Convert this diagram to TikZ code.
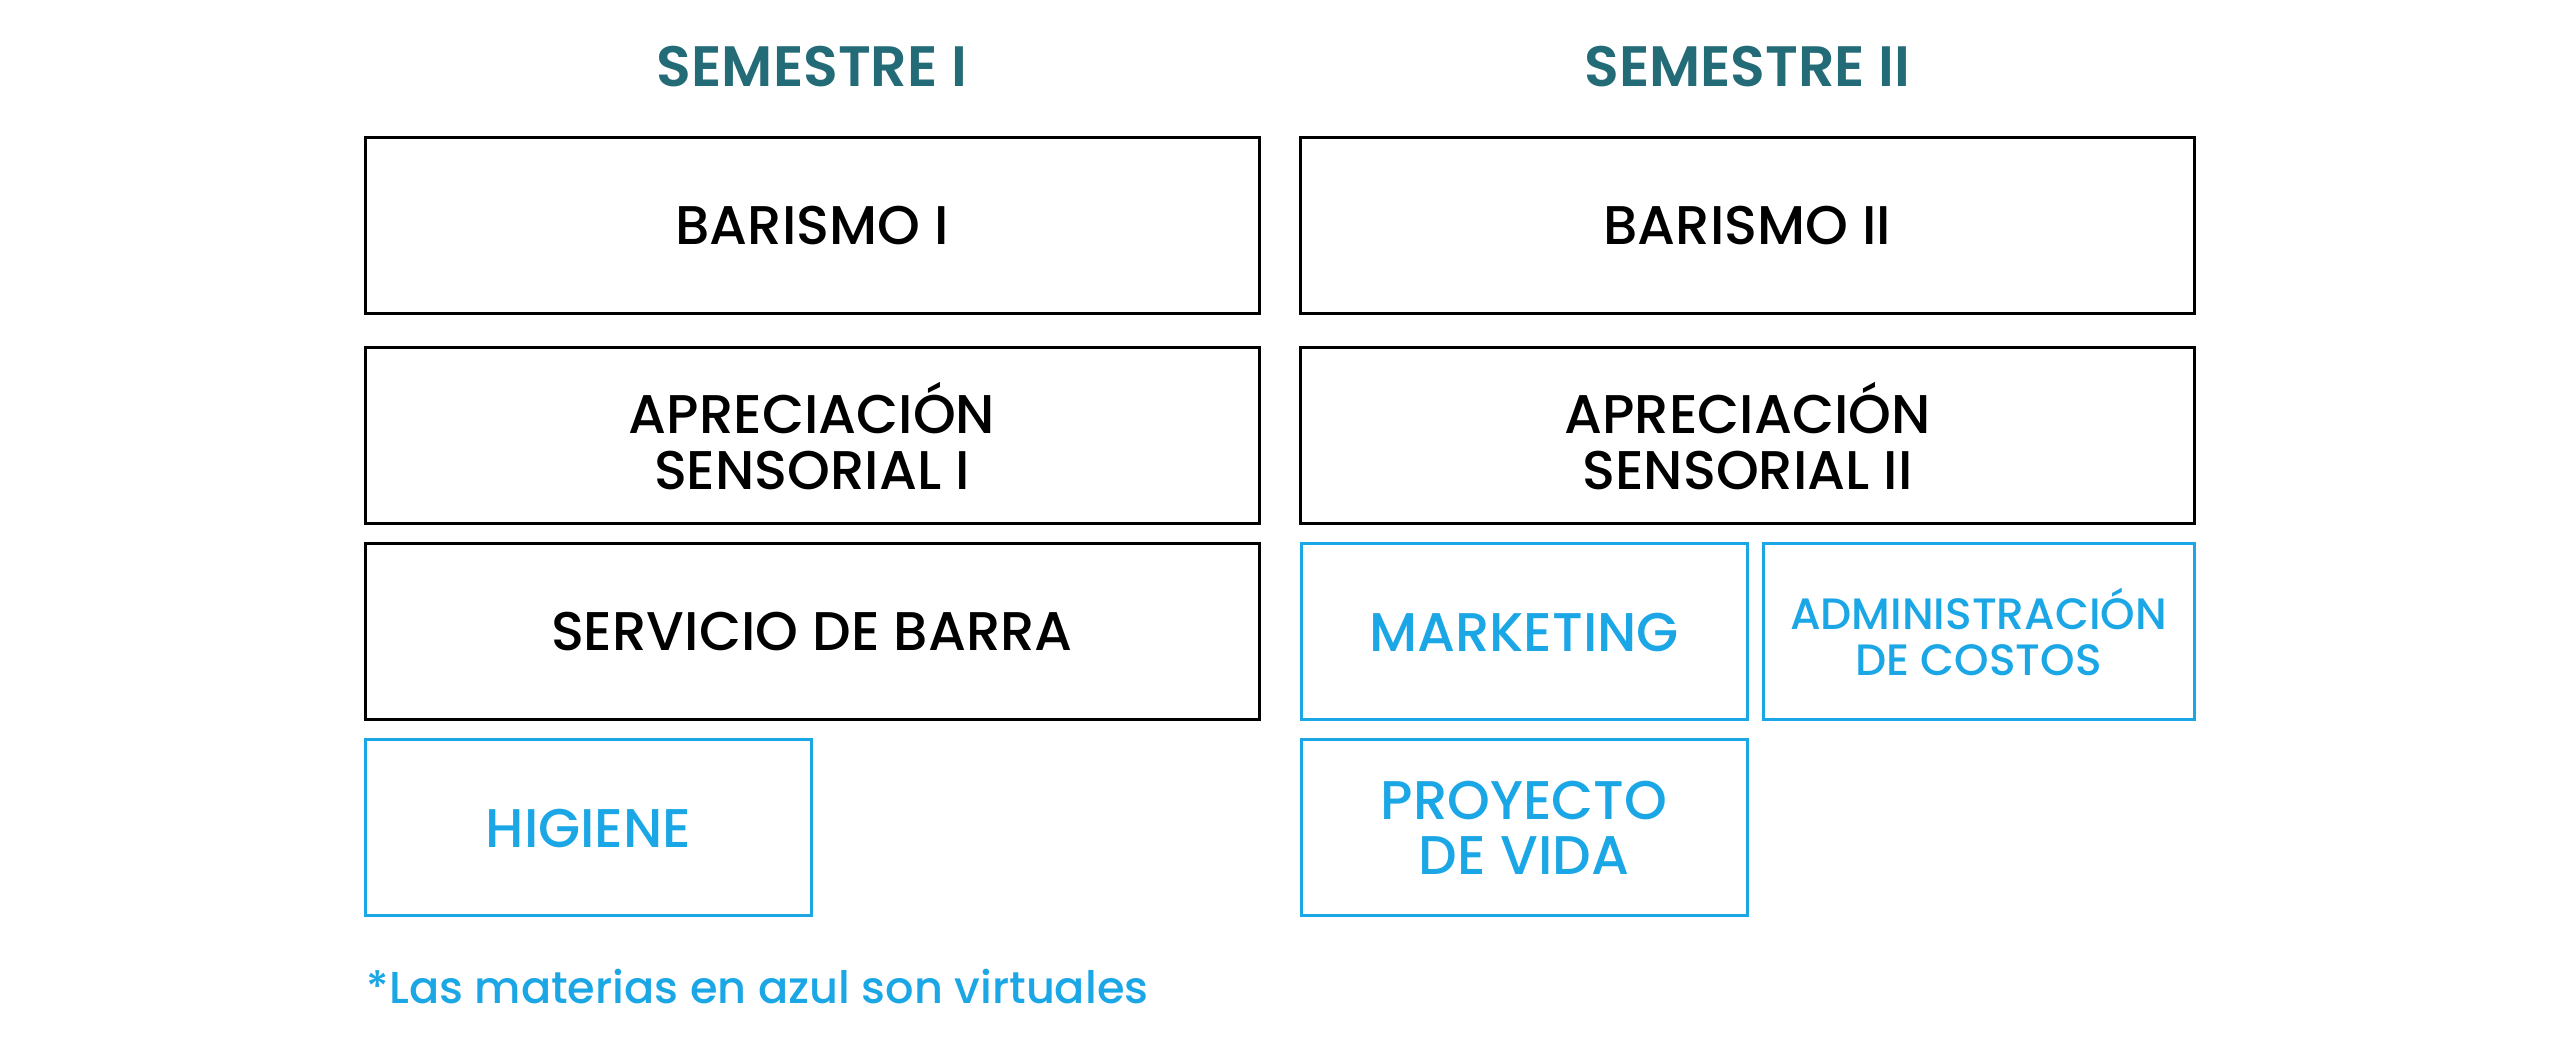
\documentclass[tikz,border=0pt]{standalone}
\usepackage{fontspec}
\setmainfont{Poppins}[UprightFont=* Medium,BoldFont=* SemiBold]
\definecolor{semteal}{HTML}{236B76}
\definecolor{virtblue}{HTML}{1BA6E5}
\begin{document}
\begin{tikzpicture}[x=0.1mm,y=-0.1mm,
    materia/.style={draw=black,line width=0.85pt,minimum width=89.4mm,minimum height=17.6mm,
      inner sep=0pt,align=center,font=\fontsize{15.5}{15.8}\selectfont},
    media/.style={materia,minimum width=44.6mm},
    virtual/.style={draw=virtblue,text=virtblue},
    semestre/.style={anchor=base,text=semteal,font=\fontsize{16.2}{16.5}\selectfont\bfseries}]
  \useasboundingbox (0,0) rectangle (2560,1048);
  % titulos
  \node[semestre] (s1) at (812,87) {SEMESTRE I};
  \node[semestre] (s2) at (1747.5,87) {SEMESTRE II};
  % semestre I
  \node[materia] (bar1) at (812,226) {BARISMO I};
  \node[materia] (apr1) at (812,436) {APRECIACIÓN\\SENSORIAL I};
  \node[materia] (serv) at (812,632) {SERVICIO DE BARRA};
  \node[media,virtual] (hig) at (588.5,828) {HIGIENE};
  % semestre II
  \node[materia] (bar2) at (1747.5,226) {BARISMO II};
  \node[materia] (apr2) at (1747.5,436) {APRECIACIÓN\\SENSORIAL II};
  \node[media,virtual] (mkt) at (1524,632) {MARKETING};
  \node[media,virtual,minimum width=43.1mm,font=\fontsize{12.5}{13}\selectfont] (adm) at (1978.5,632) {ADMINISTRACIÓN\\DE COSTOS};
  \node[media,virtual] (pv) at (1524,828) {PROYECTO\\DE VIDA};
  % nota
  \node[anchor=base west,inner sep=0pt,text=virtblue,font=\fontsize{12.7}{13}\selectfont] (nota) at (366,1004) {*Las materias en azul son virtuales};
\end{tikzpicture}
\end{document}
